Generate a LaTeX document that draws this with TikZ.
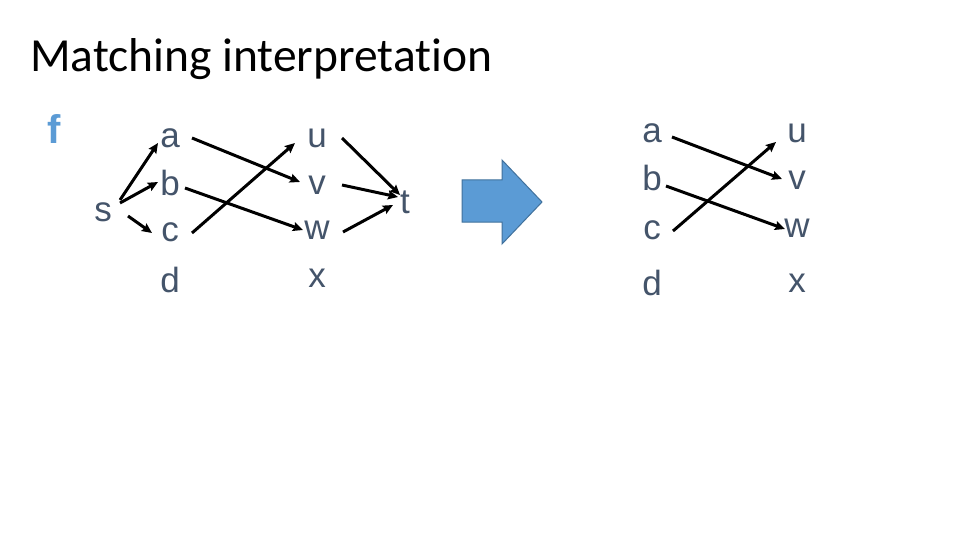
\documentclass[tikz,border=0pt]{standalone}
\usepackage{fontspec}
\setmainfont{Liberation Sans}
\newfontfamily\titlefont[Ligatures=NoCommon]{Carlito}
\usetikzlibrary{arrows.meta,calc}
\definecolor{lbl}{HTML}{44546A}
\definecolor{fblue}{HTML}{5B9BD5}
\definecolor{arrfill}{HTML}{5B9BD5}
\definecolor{arrdraw}{HTML}{41719C}
\tikzset{
  lab/.style={inner sep=0pt, text=lbl, font=\fontsize{35}{35}\selectfont},
  arr/.style={line width=3pt, black, -{Stealth[length=10pt,width=9pt,inset=1.5pt]}},
}
\begin{document}
\begin{tikzpicture}[x=1pt,y=-1pt]
\useasboundingbox (0,0) rectangle (960,540);
\fill[white] (0,0) rectangle (960,540);
% title
\node[anchor=base west, inner sep=0pt, font=\titlefont\fontsize{47.5}{47.5}\selectfont] (title) at (30,72) {Matching interpretation};
\node[inner sep=0pt, text=fblue, font=\bfseries\fontsize{40}{40}\selectfont] (f) at (54,129) {f};
% left graph
\node[lab] (s) at (103,212) {s};
\node[lab] (a) at (170,138) {a};
\node[lab] (b) at (170,183) {b};
\node[lab] (c) at (170,232) {c};
\node[lab] (d) at (170,280) {d};
\node[lab] (u) at (317,138) {u};
\node[lab] (v) at (317,185) {v};
\node[lab] (w) at (317,230) {w};
\node[lab] (x) at (317,278) {x};
\node[lab] (t) at (405,202) {t};
\draw[arr] ($(s)+(17,-12)$) -- ($(a)+(-12,5)$);
\draw[arr] ($(s)+(17,-9)$) -- ($(b)+(-12,-1)$);
\draw[arr] ($(s)+(25,4)$) -- ($(c)+(-18,1)$);
\draw[arr] ($(a)+(22,0)$) -- ($(v)+(-17,-3)$);
\draw[arr] ($(b)+(15,5)$) -- ($(w)+(-14,0)$);
\draw[arr] ($(c)+(22,1)$) -- ($(u)+(-22,5)$);
\draw[arr] ($(u)+(25,0)$) -- ($(t)+(-5,-7)$);
\draw[arr] ($(v)+(25,0)$) -- ($(t)+(-7,-5)$);
\draw[arr] ($(w)+(26,2)$) -- ($(t)+(-12,3)$);
% block arrow
\draw[fill=arrfill, draw=arrdraw, line width=1pt] (462,180) -- (502,180) -- (502,160) -- (542,202) -- (502,244) -- (502,222) -- (462,222) -- cycle;
% right graph
\node[lab] (a2) at (652,133) {a};
\node[lab] (b2) at (652,178) {b};
\node[lab] (c2) at (652,230) {c};
\node[lab] (d2) at (652,283) {d};
\node[lab] (u2) at (797,133) {u};
\node[lab] (v2) at (797,180) {v};
\node[lab] (w2) at (797,228) {w};
\node[lab] (x2) at (797,283) {x};
\draw[arr] ($(a2)+(20,4)$) -- ($(v2)+(-15,-1)$);
\draw[arr] ($(b2)+(14,8)$) -- ($(w2)+(-12,1)$);
\draw[arr] ($(c2)+(21,1)$) -- ($(u2)+(-21,9)$);
\end{tikzpicture}
\end{document}
